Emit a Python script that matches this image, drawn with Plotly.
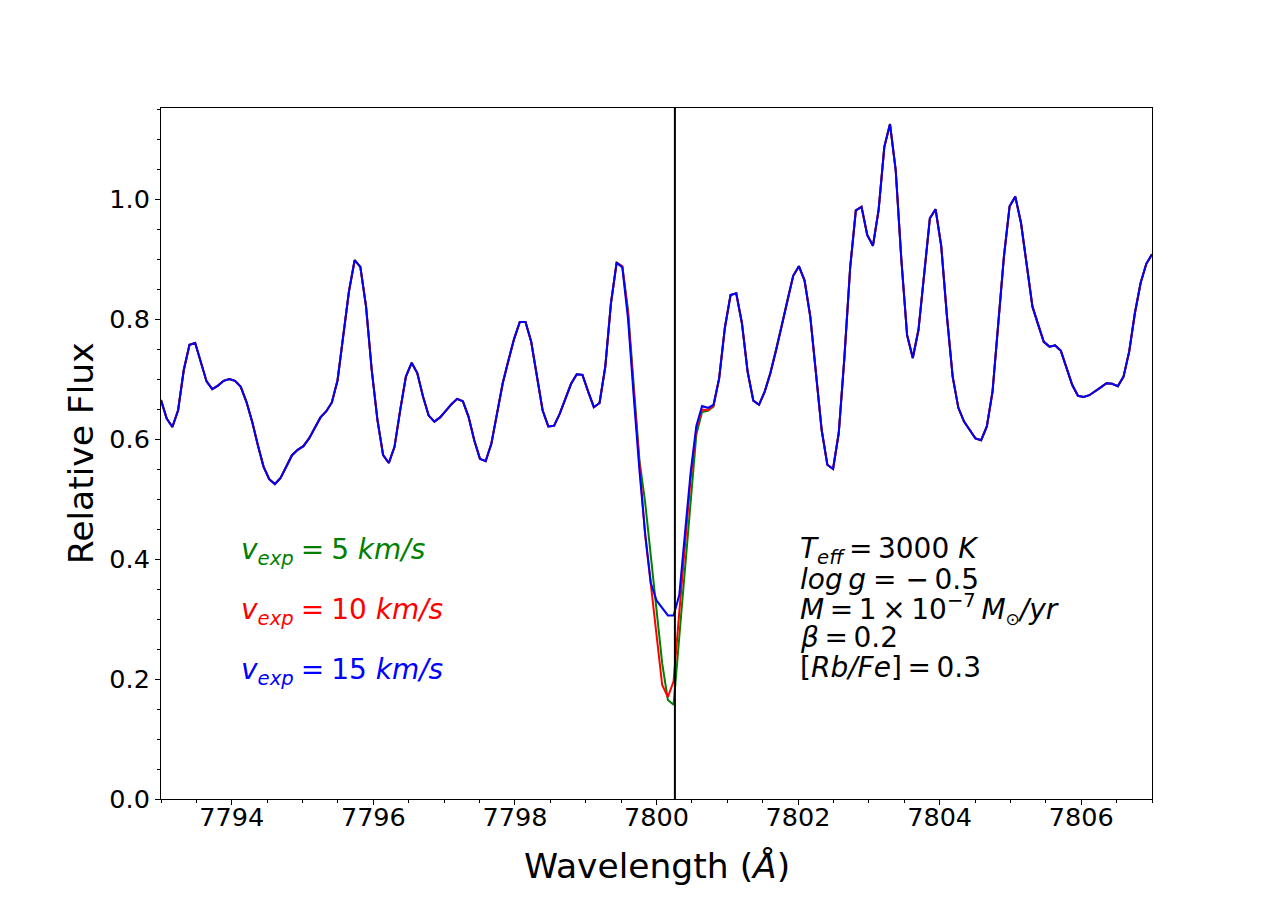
import numpy as np
from plotly import graph_objects as go


# synthetic spectra around the Rb I 7800 line, three expansion velocities
WAVE_START = 7793.0
WAVE_END = 7807.0
N_POINTS = 175
RB_LINE = 7800.26

# v_exp = 15 km/s, full range (the other two only differ in the line core)
FLUX_15 = [
    0.665, 0.634, 0.620, 0.648, 0.715, 0.757, 0.760, 0.726, 0.696, 0.683,
    0.689, 0.697, 0.700, 0.697, 0.687, 0.662, 0.629, 0.590, 0.554, 0.533,
    0.525, 0.535, 0.554, 0.573, 0.582, 0.588, 0.601, 0.618, 0.636, 0.646,
    0.661, 0.698, 0.771, 0.846, 0.898, 0.887, 0.821, 0.715, 0.632, 0.573,
    0.560, 0.587, 0.648, 0.704, 0.727, 0.710, 0.671, 0.639, 0.629, 0.636,
    0.647, 0.658, 0.667, 0.663, 0.637, 0.598, 0.567, 0.563, 0.592, 0.643,
    0.693, 0.731, 0.767, 0.795, 0.795, 0.762, 0.701, 0.648, 0.621, 0.622,
    0.642, 0.666, 0.692, 0.708, 0.707, 0.679, 0.653, 0.660, 0.720, 0.826,
    0.894, 0.886, 0.800, 0.671, 0.548, 0.443, 0.360, 0.331, 0.318, 0.306,
    0.306, 0.340, 0.443, 0.545, 0.622, 0.655, 0.652, 0.657, 0.701, 0.785,
    0.840, 0.843, 0.793, 0.712, 0.664, 0.657, 0.679, 0.710, 0.748, 0.790,
    0.832, 0.872, 0.888, 0.864, 0.804, 0.710, 0.615, 0.557, 0.550, 0.610,
    0.737, 0.885, 0.981, 0.987, 0.940, 0.922, 0.982, 1.087, 1.125, 1.048,
    0.898, 0.773, 0.735, 0.782, 0.870, 0.968, 0.983, 0.921, 0.804, 0.704,
    0.652, 0.629, 0.615, 0.601, 0.598, 0.621, 0.679, 0.787, 0.904, 0.988,
    1.004, 0.960, 0.887, 0.821, 0.791, 0.762, 0.754, 0.756, 0.747, 0.718,
    0.690, 0.672, 0.670, 0.673, 0.679, 0.686, 0.693, 0.692, 0.688, 0.704,
    0.746, 0.810, 0.860, 0.892, 0.908,
]

# line core, starting at sample index CORE_START
CORE_START = 80
FLUX_10_CORE = [0.894, 0.888, 0.810, 0.680, 0.560, 0.440, 0.358, 0.276, 0.190,
                0.170, 0.196, 0.311, 0.425, 0.535, 0.617, 0.649, 0.648, 0.655]
FLUX_5_CORE = [0.894, 0.888, 0.815, 0.690, 0.565, 0.495, 0.404, 0.310, 0.226,
               0.165, 0.157, 0.270, 0.387, 0.500, 0.608, 0.645, 0.647, 0.654]

VEXP_LABELS = ['5', '10', '15']
COLORS = ['green', 'red', 'blue']

TS = '\u2009'  # thin space, mathtext spacing is tighter than a normal blank
MS = '\u2005'  # four-per-em space
PARAM_LINES = [
    '<i>T</i><sub><i>eff</i></sub>' + TS + '=' + TS + '3000 <i>K</i>',
    '<i>log</i>' + TS + '<i>g</i>' + MS + '= \u2212' + TS + '0.5',
    '<i>M</i>' + TS + '=' + TS + '1' + TS + '\u00d7' + TS + '10<sup>\u22127</sup>' + TS
    + '<i>M</i><sub><span style="font-size:17px">\u2299</span></sub><i>/yr</i>',
    '<i>\u03b2</i>' + TS + '=' + TS + '0.2',
    '[<i>Rb/Fe</i>]' + TS + '=' + TS + '0.3',
]

FONT = 'DejaVu Sans'
Y_MAX = 1.1517


def with_core(core):
    flux = np.array(FLUX_15, dtype=float)
    flux[CORE_START:CORE_START + len(core)] = core
    return flux


def main():
    wave = np.linspace(WAVE_START, WAVE_END, N_POINTS)
    spectra = [with_core(FLUX_5_CORE), with_core(FLUX_10_CORE), np.array(FLUX_15)]

    fig = go.Figure()
    for label, color, flux in zip(VEXP_LABELS, COLORS, spectra):
        fig.add_trace(go.Scatter(
            name='v_exp = {} km/s'.format(label),
            mode='lines',
            x=wave,
            y=flux,
            line=dict(color=color, width=2),
        ))

    fig.add_shape(type='line', xref='x', yref='paper',
                  x0=RB_LINE, x1=RB_LINE, y0=0, y1=1,
                  line=dict(color='black', width=2))

    # velocity labels on the left
    for k, (label, color) in enumerate(zip(VEXP_LABELS, COLORS)):
        fig.add_annotation(
            x=7794.1, y=0.413 - 0.1 * k, xref='x', yref='y',
            xanchor='left', yanchor='middle', showarrow=False,
            text='<i>v</i><sub><i>exp</i></sub>' + MS + '=' + MS
                 + '{} <i>km/s</i>'.format(label),
            font=dict(family=FONT, size=28, color=color),
        )

    # model parameters on the right
    for k, line in enumerate(PARAM_LINES):
        fig.add_annotation(
            x=7802.0, y=0.415 - 0.0488 * k, xref='x', yref='y',
            xanchor='left', yanchor='middle', showarrow=False,
            text=line, font=dict(family=FONT, size=28, color='black'),
        )

    # axis titles as annotations so they sit where matplotlib put them
    fig.add_annotation(x=0.5, y=-0.097, xref='paper', yref='paper',
                       text='Wavelength (<i>\u00c5</i>)', showarrow=False,
                       xanchor='center', yanchor='middle',
                       font=dict(family=FONT, size=34.5, color='black'))
    fig.add_annotation(x=-0.081, y=0.5, xref='paper', yref='paper',
                       text='Relative Flux', showarrow=False, textangle=-90,
                       xanchor='center', yanchor='middle',
                       font=dict(family=FONT, size=34.5, color='black'))

    axis_style = dict(
        showline=True, linecolor='black', linewidth=1, mirror=True,
        ticks='outside', ticklen=5, tickwidth=1, tickcolor='black',
        showgrid=False, zeroline=False,
        tickfont=dict(family=FONT, size=25.5, color='black'),
    )
    fig.update_xaxes(range=[WAVE_START, WAVE_END], dtick=2, tick0=7794,
                     ticklabelstandoff=-10,
                     minor=dict(dtick=0.5, tick0=7793, ticklen=3, ticks='outside',
                                tickcolor='black'),
                     **axis_style)
    fig.update_yaxes(range=[0, Y_MAX], dtick=0.2, tickformat='.1f',
                     minor=dict(dtick=0.05, ticklen=3, ticks='outside',
                                tickcolor='black'),
                     **axis_style)

    # the page body adds an 8px offset, margins make up for it
    fig.update_layout(
        width=1280, height=898,
        margin=dict(l=153, r=136, t=100, b=107, autoexpand=False),
        plot_bgcolor='white', paper_bgcolor='white',
        showlegend=False,
        font=dict(family=FONT, color='black'),
    )

    fig.write_html('out.html')


if __name__ == '__main__':
    main()
